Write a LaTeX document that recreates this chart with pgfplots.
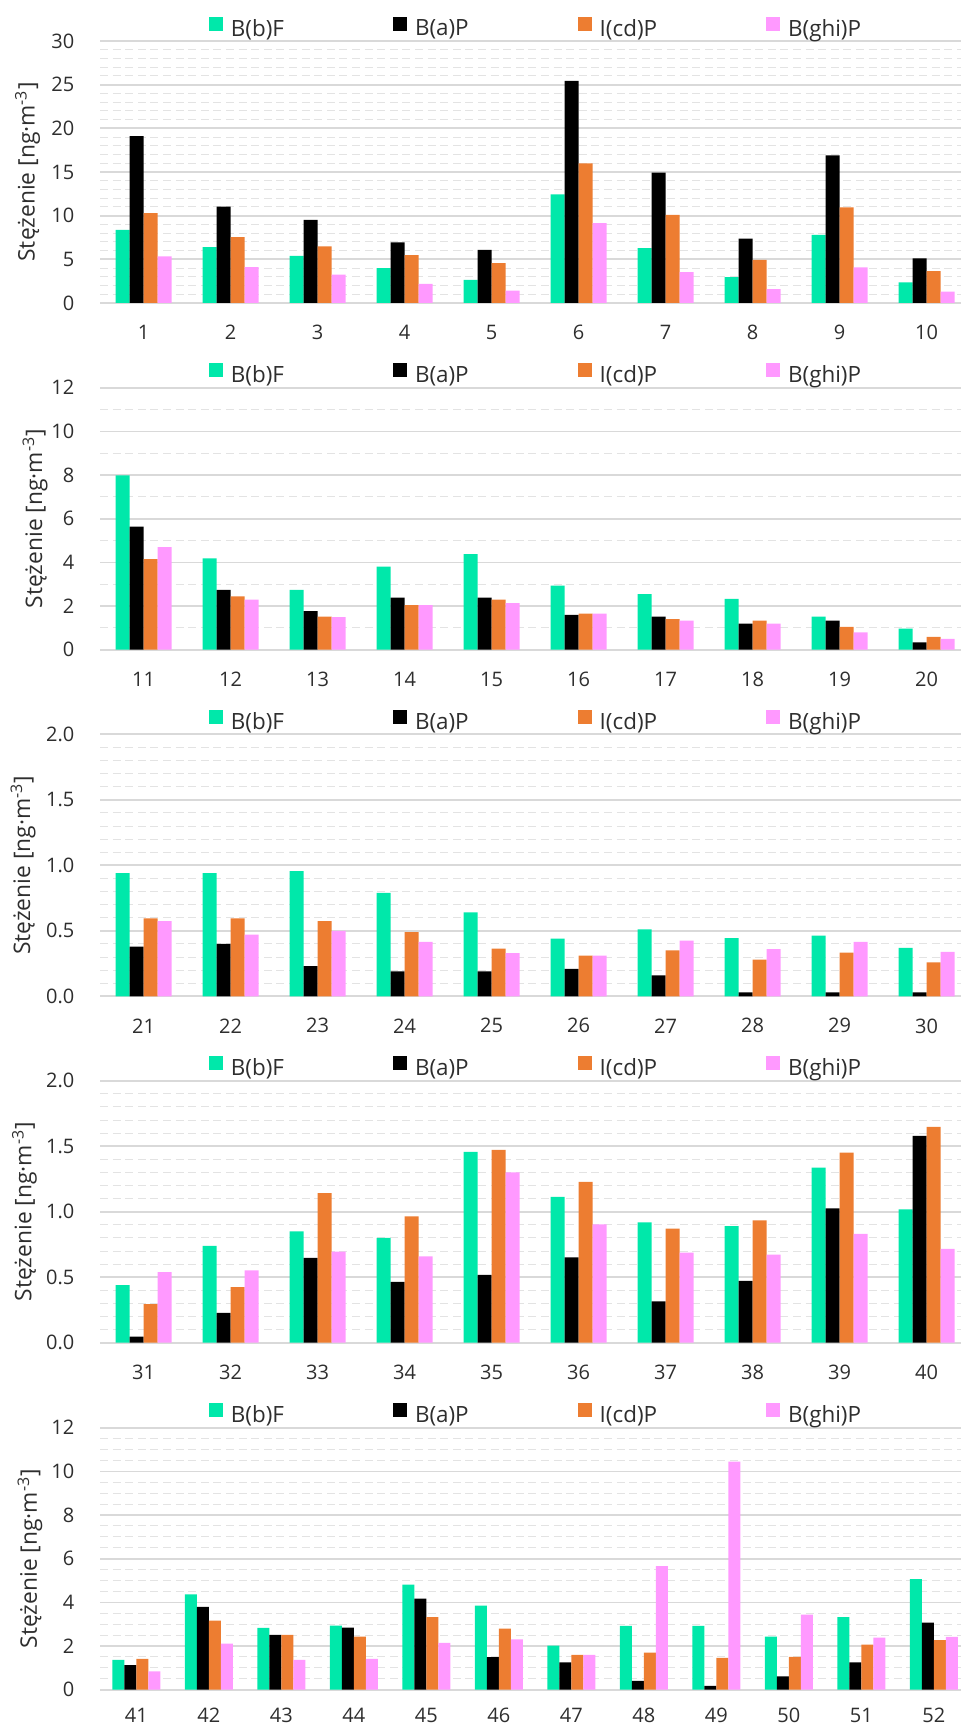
\documentclass[border=0pt]{standalone}
\usepackage{fontspec}
\setmainfont{Open Sans}
\usepackage{pgfplots}
\usepackage{pgfplotstable}
\pgfplotsset{compat=1.18}
\definecolor{cgreen}{HTML}{00E8AA}
\definecolor{corange}{HTML}{ED7D31}
\definecolor{cpink}{HTML}{FF99FF}
\definecolor{gridmaj}{HTML}{D9D9D9}
\definecolor{gridmin}{HTML}{E3E3E3}
\definecolor{txt}{HTML}{2E2E2E}

\pgfplotstableread{
x bbf bap icdp bghip
1 8.37 19.1 10.28 5.33
2 6.4 11.04 7.54 4.11
3 5.4 9.52 6.47 3.24
4 4.0 6.93 5.48 2.2
5 2.65 6.09 4.57 1.41
6 12.45 25.43 15.99 9.14
7 6.28 14.92 10.09 3.54
8 2.97 7.38 4.95 1.6
9 7.8 16.9 10.96 4.07
10 2.36 5.1 3.65 1.29
}\tabA
\pgfplotstableread{
x bbf bap icdp bghip
11 7.99 5.64 4.15 4.7
12 4.18 2.74 2.44 2.29
13 2.74 1.77 1.52 1.49
14 3.8 2.39 2.04 2.04
15 4.38 2.39 2.29 2.13
16 2.94 1.6 1.65 1.65
17 2.55 1.52 1.4 1.33
18 2.33 1.2 1.33 1.2
19 1.52 1.33 1.04 0.79
20 0.96 0.34 0.59 0.5
}\tabB
\pgfplotstableread{
x bbf bap icdp bghip
21 0.94 0.38 0.594 0.573
22 0.94 0.40 0.594 0.47
23 0.955 0.23 0.573 0.5
24 0.79 0.19 0.49 0.415
25 0.64 0.19 0.364 0.33
26 0.44 0.21 0.31 0.31
27 0.51 0.16 0.35 0.425
28 0.445 0.03 0.28 0.36
29 0.464 0.03 0.334 0.415
30 0.37 0.03 0.26 0.34
}\tabC
\pgfplotstableread{
x bbf bap icdp bghip
31 0.44 0.046 0.294 0.538
32 0.74 0.228 0.424 0.553
33 0.85 0.647 1.142 0.695
34 0.80 0.464 0.964 0.66
35 1.457 0.518 1.472 1.30
36 1.114 0.652 1.228 0.903
37 0.919 0.315 0.87 0.688
38 0.89 0.472 0.934 0.672
39 1.337 1.025 1.452 0.83
40 1.018 1.579 1.647 0.716
}\tabD
\pgfplotstableread{
x bbf bap icdp bghip
41 1.37 1.13 1.41 0.84
42 4.37 3.8 3.16 2.11
43 2.83 2.51 2.51 1.37
44 2.94 2.84 2.43 1.41
45 4.81 4.17 3.33 2.14
46 3.85 1.49 2.8 2.31
47 2.02 1.25 1.6 1.6
48 2.92 0.4 1.7 5.66
49 2.92 0.18 1.46 10.45
50 2.43 0.61 1.5 3.44
51 3.32 1.25 2.07 2.39
52 5.06 3.07 2.27 2.42
}\tabE

\pgfplotsset{
  panel/.style={
    scale only axis, width=435pt, height=131pt,
    axis lines=left, axis line style={draw=none},
    tick style={draw=none}, minor tick style={draw=none},
    ymajorgrids, yminorgrids,
    major grid style={draw=gridmaj, line width=0.85pt},
    minor grid style={draw=gridmin, line width=0.5pt, dash pattern=on 4pt off 2.3pt},
    ybar=0pt, bar width=7pt,
    xtick=data, ymin=0,
    tick label style={font=\fontsize{10}{12}\selectfont, text=txt},
    xticklabel style={anchor=center, inner sep=0pt, yshift=-10.5pt},
    yticklabel style={anchor=east, inner sep=0pt, xshift=-10.5pt},
    /pgf/number format/assume math mode=true,
    ylabel={Stężenie [ng·m\textsuperscript{-3}]},
    label style={font=\fontsize{11.4}{13}\selectfont, text=txt},
    legend style={draw=none, fill=none, legend columns=4, at={(0.5,1)}, anchor=center, yshift=6.5pt,
      font=\fontsize{11.2}{13}\selectfont, text=txt,
      /tikz/every odd column/.append style={column sep=4pt},
      /tikz/every even column/.append style={column sep=54.5pt},
      nodes={inner sep=0pt}},
    legend image code/.code={\fill[##1] (0pt,-0.75pt) rectangle (7pt,6.25pt);},
  },
  barA/.style={fill=cgreen, draw=none},
  barB/.style={fill=black, draw=none},
  barC/.style={fill=corange, draw=none},
  barD/.style={fill=cpink, draw=none},
}

\begin{document}
\begin{tikzpicture}
\useasboundingbox (0pt,0pt) rectangle (480.5pt,-863.5pt);

\begin{axis}[panel, at={(50pt,-20.5pt)}, anchor=north west,
  xmin=0.5, xmax=10.5, ymax=30, ytick={0,5,...,30}, minor y tick num=4,
  ylabel style={at={(axis description cs:-0.0833,0.5)}, anchor=center}]
\addplot[barA] table[x=x,y=bbf]{\tabA};
\addplot[barB] table[x=x,y=bap]{\tabA};
\addplot[barC] table[x=x,y=icdp]{\tabA};
\addplot[barD] table[x=x,y=bghip]{\tabA};
\legend{B(b)F,B(a)P,I(cd)P,B(ghi)P}
\end{axis}

\begin{axis}[panel, at={(50pt,-193.85pt)}, anchor=north west,
  xmin=10.5, xmax=20.5, ymax=12, ytick={0,2,...,12}, minor y tick num=1,
  ylabel style={at={(axis description cs:-0.0747,0.5)}, anchor=center}]
\addplot[barA] table[x=x,y=bbf]{\tabB};
\addplot[barB] table[x=x,y=bap]{\tabB};
\addplot[barC] table[x=x,y=icdp]{\tabB};
\addplot[barD] table[x=x,y=bghip]{\tabB};
\legend{B(b)F,B(a)P,I(cd)P,B(ghi)P}
\end{axis}

\begin{axis}[panel, at={(50pt,-367.15pt)}, anchor=north west,
  xmin=20.5, xmax=30.5, ymax=2, ytick={0,0.5,...,2}, minor y tick num=4,
  yticklabel style={/pgf/number format/.cd, fixed, fixed zerofill, precision=1},
  ylabel style={at={(axis description cs:-0.0885,0.5)}, anchor=center}]
\addplot[barA] table[x=x,y=bbf]{\tabC};
\addplot[barB] table[x=x,y=bap]{\tabC};
\addplot[barC] table[x=x,y=icdp]{\tabC};
\addplot[barD] table[x=x,y=bghip]{\tabC};
\legend{B(b)F,B(a)P,I(cd)P,B(ghi)P}
\end{axis}

\begin{axis}[panel, at={(50pt,-540.35pt)}, anchor=north west,
  xmin=30.5, xmax=40.5, ymax=2, ytick={0,0.5,...,2}, minor y tick num=4,
  yticklabel style={/pgf/number format/.cd, fixed, fixed zerofill, precision=1},
  ylabel style={at={(axis description cs:-0.0868,0.5)}, anchor=center}]
\addplot[barA] table[x=x,y=bbf]{\tabD};
\addplot[barB] table[x=x,y=bap]{\tabD};
\addplot[barC] table[x=x,y=icdp]{\tabD};
\addplot[barD] table[x=x,y=bghip]{\tabD};
\legend{B(b)F,B(a)P,I(cd)P,B(ghi)P}
\end{axis}

\begin{axis}[panel, at={(50pt,-713.85pt)}, anchor=north west, bar width=6pt,
  xmin=40.5, xmax=52.5, ymax=12, ytick={0,2,...,12}, minor y tick num=3,
  xticklabel style={yshift=1.8pt},
  ylabel style={at={(axis description cs:-0.0805,0.5)}, anchor=center}]
\addplot[barA] table[x=x,y=bbf]{\tabE};
\addplot[barB] table[x=x,y=bap]{\tabE};
\addplot[barC] table[x=x,y=icdp]{\tabE};
\addplot[barD] table[x=x,y=bghip]{\tabE};
\legend{B(b)F,B(a)P,I(cd)P,B(ghi)P}
\end{axis}
\end{tikzpicture}
\end{document}
